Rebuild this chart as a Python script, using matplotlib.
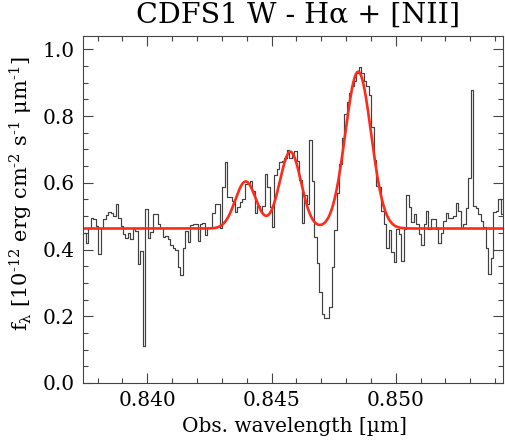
import numpy as np
import matplotlib
matplotlib.use("Agg")
import matplotlib.pyplot as plt
from matplotlib.ticker import MultipleLocator, FormatStrFormatter

# ---- data ----
wl_start = 0.83747   # centre of first bin [um]
wl_step = 0.0001     # bin width [um]
flux = [0.451, 0.419, 0.466, 0.494, 0.491, 0.471, 0.386, 0.466, 0.491, 0.504,
        0.514, 0.511, 0.502, 0.537, 0.496, 0.471, 0.446, 0.436, 0.451, 0.431,
        0.466, 0.456, 0.356, 0.396, 0.112, 0.521, 0.436, 0.453, 0.506, 0.506,
        0.476, 0.466, 0.438, 0.441, 0.431, 0.413, 0.406, 0.398, 0.348, 0.323,
        0.406, 0.456, 0.423, 0.474, 0.476, 0.476, 0.426, 0.476, 0.481, 0.443,
        0.466, 0.466, 0.509, 0.537, 0.536, 0.464, 0.587, 0.661, 0.556, 0.556,
        0.546, 0.514, 0.526, 0.541, 0.551, 0.596, 0.596, 0.606, 0.576, 0.509,
        0.531, 0.516, 0.529, 0.626, 0.586, 0.526, 0.469, 0.622, 0.641, 0.661,
        0.666, 0.674, 0.699, 0.674, 0.686, 0.696, 0.664, 0.609, 0.481, 0.564,
        0.536, 0.727, 0.606, 0.438, 0.359, 0.273, 0.206, 0.196, 0.196, 0.228,
        0.348, 0.459, 0.570, 0.656, 0.734, 0.806, 0.843, 0.869, 0.889, 0.905,
        0.929, 0.946, 0.929, 0.904, 0.889, 0.864, 0.768, 0.668, 0.589, 0.586,
        0.516, 0.476, 0.406, 0.458, 0.393, 0.363, 0.461, 0.446, 0.366, 0.461,
        0.563, 0.526, 0.483, 0.506, 0.476, 0.446, 0.413, 0.476, 0.516, 0.461,
        0.491, 0.491, 0.461, 0.420, 0.449, 0.486, 0.509, 0.496, 0.496, 0.501,
        0.539, 0.516, 0.466, 0.476, 0.524, 0.614, 0.879, 0.529, 0.524, 0.506,
        0.486, 0.469, 0.406, 0.328, 0.376, 0.514, 0.516, 0.551, 0.506]

# Gaussian fit components
fit_continuum = 0.463
fit_centers = [0.84396, 0.84576, 0.84849]
fit_amps = [0.141, 0.230, 0.470]
fit_sigmas = [0.00042, 0.00043, 0.00052]

title = "CDFS1 W - H\u03b1 + [NII]"
xlabel = "Obs. wavelength [\u00b5m]"
ylabel = (r"f$_{\mathrm{\lambda}}$ [10$^{\text{-12}}$ erg cm$^{\text{-2}}$ "
          r"s$^{\text{-1}}$ $\mathrm{\mu}$m$^{\text{-1}}$]")
xlim = (0.83741, 0.85432)
ylim = (0.0, 1.04)

# ---- plot ----
plt.rcParams['font.family'] = ['DejaVu Serif']
plt.rcParams['mathtext.fontset'] = 'dejavuserif'

W, H = 505, 442
fig = plt.figure(figsize=(W / 100, H / 100), dpi=100)
ax = fig.add_axes([83 / W, 1 - 383 / H, 420 / W, 347 / H])

flux = np.array(flux)
wl = wl_start + wl_step * np.arange(len(flux))
ax.step(wl, flux, where='mid', color='#404040', lw=0.85)

xx = np.linspace(xlim[0], xlim[1], 1500)
model = np.full_like(xx, fit_continuum)
for c, a, s in zip(fit_centers, fit_amps, fit_sigmas):
    model += a * np.exp(-0.5 * ((xx - c) / s) ** 2)
ax.plot(xx, model, color='#ff2a18', lw=1.9)

ax.set_xlim(*xlim)
ax.set_ylim(*ylim)
ax.xaxis.set_major_locator(MultipleLocator(0.005))
ax.xaxis.set_minor_locator(MultipleLocator(0.001))
ax.yaxis.set_major_locator(MultipleLocator(0.2))
ax.yaxis.set_minor_locator(MultipleLocator(0.05))
ax.xaxis.set_major_formatter(FormatStrFormatter('%.3f'))
ax.yaxis.set_major_formatter(FormatStrFormatter('%.1f'))
ax.tick_params(which='both', direction='in', top=True, right=True,
               color='#444444', labelsize=14.5, width=0.8)
ax.tick_params(which='major', length=7, pad=6)
ax.tick_params(which='minor', length=3.5)
for sp in ax.spines.values():
    sp.set_color('#444444')
    sp.set_linewidth(0.8)

fig.text(298 / W, 1 - 15 / H, title, ha='center', va='center', fontsize=20.5)
fig.text(294 / W, 1 - 426 / H, xlabel, ha='center', va='center', fontsize=14.5)
fig.text(21 / W, 1 - 194 / H, ylabel, ha='center', va='center', rotation=90,
         fontsize=15)

fig.savefig('out.png', dpi=100)
